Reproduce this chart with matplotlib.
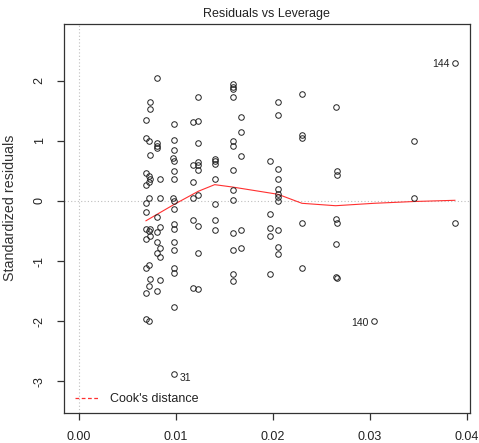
import matplotlib
matplotlib.use("Agg")
import matplotlib.pyplot as plt
from matplotlib.lines import Line2D

plt.rcParams["font.family"] = ["Liberation Sans", "DejaVu Sans"]

# Leverage (hat values) and standardized residuals of the fitted model
leverage = (
    [0.00691] * 11 + [0.00719] * 8 + [0.00733] * 7 + [0.00808] * 9 + [0.00833] * 6
    + [0.00967] * 2 + [0.00980] * 16 + [0.01173] * 6 + [0.01231] * 10 + [0.01400] * 7
    + [0.01586] * 13 + [0.01675] * 5 + [0.01971] * 5 + [0.02053] * 11 + [0.02301] * 5
    + [0.02648] * 4 + [0.02665] * 4 + [0.03043] * 1 + [0.03459] * 2 + [0.03879] * 2
)
std_resid = [
    1.34, 1.04, 0.46, 0.26, -0.03, -0.18, -0.46, -0.63, -1.11, -1.53, -1.96,
    1.00, 0.41, 0.32, 0.04, -0.50, -1.06, -1.42, -1.99,
    1.64, 1.52, 0.76, 0.37, -0.46, -0.59, -1.29,
    2.04, 0.97, 0.92, 0.88, -0.27, -0.52, -0.69, -0.86, -1.49,
    0.37, 0.05, -0.43, -0.79, -0.93, -1.32,
    0.71, 0.04,
    1.28, 1.02, 0.84, 0.67, 0.50, 0.36, 0.00, -0.13, -0.38, -0.46, -0.68, -0.82, -1.12, -1.19, -1.77, -2.87,
    1.31, 0.59, 0.31, 0.05, -0.31, -1.44,
    1.73, 1.33, 0.97, 0.65, 0.59, 0.51, 0.10, -0.41, -0.86, -1.47,
    0.70, 0.66, 0.62, 0.36, -0.05, -0.31, -0.49,
    1.95, 1.90, 1.86, 1.73, 1.00, 0.92, 0.52, 0.18, 0.01, -0.53, -0.82, -1.22, -1.33,
    1.39, 1.15, 0.74, -0.48, -0.78,
    0.67, -0.21, -0.45, -0.58, -1.21,
    1.65, 1.43, 0.53, 0.36, 0.20, 0.11, 0.07, 0.00, -0.48, -0.77, -0.88,
    1.77, 1.10, 1.04, -0.37, -1.11,
    1.56, -0.30, -0.72, -1.27,
    0.50, 0.43, -0.36, -1.28,
    -2.00,
    0.99, 0.04,
    2.30, -0.37,
]

# Loess smooth of residuals against leverage
smooth_lev = [0.00691, 0.00980, 0.01231, 0.01400, 0.01586, 0.02053, 0.02301,
              0.02648, 0.03043, 0.03459, 0.03879]
smooth_res = [-0.33, -0.06, 0.16, 0.27, 0.23, 0.11, -0.04, -0.08, -0.04, -0.01, 0.01]

# Observations flagged with their row number
flag_ids = ["31", "140", "144"]
flag_lev = [0.00980, 0.03043, 0.03879]
flag_res = [-2.87, -2.00, 2.30]
flag_side = ["right", "left", "left"]

x_ticks = [0.00, 0.01, 0.02, 0.03, 0.04]
x_tick_labels = ["0.00", "0.01", "0.02", "0.03", "0.04"]
y_ticks = [-3, -2, -1, 0, 1, 2]

W, H = 479, 443
fig = plt.figure(figsize=(W / 100, H / 100), dpi=100)
ax = fig.add_axes([63.7 / W, 1 - 413.3 / H, (470 - 63.7) / W, (413.3 - 24) / H])

frame_col = "#333333"
text_col = "#222222"

ax.axhline(0, color="#bebebe", lw=0.8, ls=(0, (1, 2)), zorder=1)
ax.axvline(0, color="#bebebe", lw=0.8, ls=(0, (1, 2)), zorder=1)

ax.plot(leverage, std_resid, ls="none", marker="o", ms=4.0, mew=0.7,
        mfc="none", mec="#222222", zorder=3)
ax.plot(smooth_lev, smooth_res, color="#ff3030", lw=0.8, zorder=2)

for name, lx, ly, side in zip(flag_ids, flag_lev, flag_res, flag_side):
    if side == "right":
        ax.annotate(name, (lx, ly), xytext=(4, -3), textcoords="offset points",
                    ha="left", va="center", fontsize=7.5, color=text_col)
    else:
        ax.annotate(name, (lx, ly), xytext=(-3.5, -1), textcoords="offset points",
                    ha="right", va="center", fontsize=7.5, color=text_col)

ax.set_xlim(-0.00158, 0.04035)
ax.set_ylim(-3.53, 2.94)
ax.set_xticks(x_ticks)
ax.set_xticklabels(x_tick_labels)
ax.set_yticks(y_ticks)
ax.set_yticklabels([str(v) for v in y_ticks], rotation=90, va="center")
ax.tick_params(direction="out", length=5, width=0.9, color=frame_col,
               labelsize=9, labelcolor=text_col)
ax.tick_params(axis="x", pad=8)
ax.tick_params(axis="y", pad=8)
for s in ax.spines.values():
    s.set_color(frame_col)
    s.set_linewidth(0.9)

fig.text(266 / W, 1 - 14 / H, "Residuals vs Leverage", ha="center", va="center",
         fontsize=9, color=text_col)
fig.text(10.5 / W, 1 - 208 / H, "Standardized residuals", ha="center", va="center",
         rotation=90, fontsize=10.3, color="#333333")

handle = Line2D([], [], color="#ff3030", lw=0.9, ls=(0, (3, 2)))
ax.legend([handle], ["Cook's distance"], loc="center left",
          bbox_to_anchor=((75 - 63.7) / (470 - 63.7), (413.3 - 399) / (413.3 - 24)),
          frameon=False, fontsize=9, handlelength=1.9, handletextpad=0.9,
          borderpad=0, borderaxespad=0, labelcolor=text_col)

fig.savefig("out.png", dpi=100)
